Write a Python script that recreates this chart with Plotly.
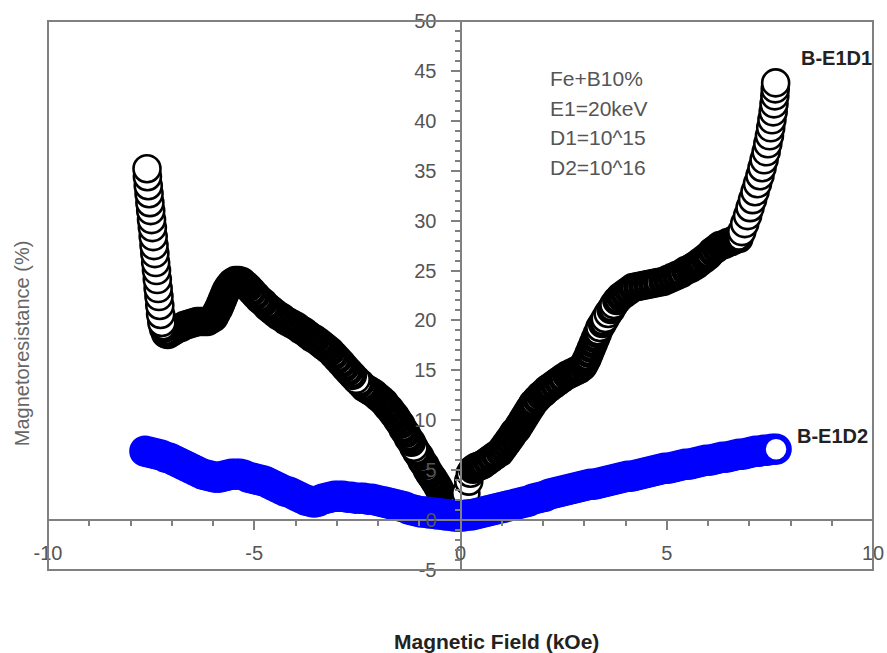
import math
import plotly.graph_objects as go

# ---- B-E1D1 (black), left sweep 0 -> -7.6 kOe, in measurement order ----
d1_left_field = [-0.20, -0.26, -0.32, -0.38, -0.44, -0.50, -0.55, -0.61, -0.67, -0.74, -0.80, -0.86, -0.93, -0.99,
                 -1.06, -1.13, -1.19, -1.26, -1.32, -1.39, -1.45, -1.52, -1.58, -1.64, -1.71, -1.78, -1.85, -1.93,
                 -2.02, -2.10, -2.18, -2.26, -2.34, -2.43, -2.53, -2.62, -2.71, -2.80, -2.88, -2.97, -3.06, -3.15,
                 -3.24, -3.33, -3.42, -3.52, -3.61, -3.70, -3.79, -3.88, -3.97, -4.06, -4.15, -4.24, -4.33, -4.42,
                 -4.51, -4.60, -4.69, -4.78, -4.87, -4.96, -5.05, -5.14, -5.22, -5.30, -5.38,
                 -5.46, -5.54, -5.60, -5.65, -5.69, -5.73, -5.77, -5.81, -5.85, -5.89, -5.94, -5.98, -6.06, -6.14,
                 -6.22, -6.30, -6.38, -6.46, -6.54, -6.62, -6.70, -6.78, -6.86, -6.94, -7.02, -7.10, -7.15, -7.20, -7.24,
                 -7.27, -7.29, -7.31, -7.33, -7.35, -7.37, -7.39, -7.41, -7.43, -7.45, -7.47, -7.49, -7.51, -7.53,
                 -7.55, -7.57, -7.59, -7.60]
d1_left_mr = [0.8, 1.2, 1.7, 2.1, 2.5, 3.0, 3.4, 3.8, 4.2, 4.6, 5.0, 5.5, 5.9, 6.4,
              6.8, 7.3, 7.8, 8.2, 8.7, 9.1, 9.6, 10.0, 10.4, 10.7, 11.1, 11.4, 11.8, 12.1,
              12.4, 12.7, 12.9, 13.1, 13.3, 13.7, 14.1, 14.5, 14.9, 15.3, 15.7, 16.1, 16.5, 16.9,
              17.2, 17.5, 17.8, 18.1, 18.3, 18.6, 18.9, 19.1, 19.4, 19.6, 19.8, 20.0, 20.3, 20.5,
              20.8, 21.1, 21.4, 21.8, 22.1, 22.5, 22.9, 23.3, 23.6, 23.9, 24.0,
              24.0, 23.8, 23.5, 23.2, 22.9, 22.5, 22.1, 21.7, 21.3, 21.0, 20.6, 20.3, 20.1, 19.9,
              19.9, 19.9, 19.9, 19.8, 19.7, 19.6, 19.5, 19.3, 19.2, 19.0, 18.8, 18.6, 18.7, 19.2, 19.8,
              20.6, 21.5, 22.4, 23.2, 24.1, 25.0, 25.8, 26.7, 27.5, 28.4, 29.3, 30.1, 31.0, 31.8,
              32.7, 33.5, 34.4, 35.2]

# ---- B-E1D1 (black), right sweep 0 -> +7.64 kOe ----
d1_right_field = [0.05, 0.13, 0.20, 0.24, 0.30, 0.37, 0.44, 0.50, 0.55, 0.65, 0.75, 0.85, 0.96,
                  1.03, 1.10, 1.17, 1.24, 1.30, 1.37, 1.43, 1.49, 1.55, 1.61, 1.67, 1.72, 1.76,
                  1.85, 1.94, 2.03, 2.10, 2.17,
                  2.27, 2.37, 2.47, 2.58, 2.68, 2.78, 2.88, 2.97,
                  3.02, 3.07, 3.12, 3.17, 3.22, 3.27, 3.32, 3.38,
                  3.44, 3.51, 3.58, 3.65, 3.72, 3.79,
                  3.88, 3.98, 4.08, 4.18,
                  4.30, 4.42, 4.54, 4.66, 4.78, 4.91,
                  5.02, 5.13, 5.24, 5.35, 5.46, 5.57, 5.65, 5.73,
                  5.82, 5.92, 6.01, 6.10, 6.20, 6.29,
                  6.39, 6.48, 6.57, 6.65, 6.75,
                  6.82, 6.89, 6.96, 7.02, 7.08, 7.14, 7.20, 7.26, 7.31, 7.36, 7.41, 7.45, 7.49, 7.52,
                  7.55, 7.58, 7.60, 7.62, 7.63, 7.64]
d1_right_mr = [1.5, 2.7, 3.9, 4.7, 5.1, 5.3, 5.4, 5.5, 5.6, 5.9, 6.2, 6.5, 6.8,
               7.2, 7.6, 8.0, 8.4, 8.8, 9.1, 9.5, 9.9, 10.3, 10.7, 11.1, 11.4, 11.7,
               12.1, 12.5, 12.8, 13.1, 13.3,
               13.6, 13.9, 14.2, 14.5, 14.7, 14.9, 15.1, 15.4,
               15.8, 16.2, 16.7, 17.2, 17.7, 18.2, 18.7, 19.3,
               19.7, 20.2, 20.7, 21.1, 21.6, 22.0,
               22.4, 22.7, 23.0, 23.3,
               23.4, 23.5, 23.6, 23.7, 23.8, 23.9,
               24.1, 24.3, 24.5, 24.7, 25.0, 25.2, 25.4, 25.6,
               25.9, 26.2, 26.5, 26.9, 27.2, 27.5,
               27.6, 27.8, 27.9, 28.1, 28.2,
               28.9, 29.7, 30.5, 31.3, 32.1, 32.9, 33.7, 34.5, 35.3, 36.1, 36.9, 37.7, 38.5, 39.3,
               40.1, 40.9, 41.7, 42.5, 43.2, 43.8]

# ---- B-E1D2 (blue), sweep -7.65 -> +7.65 kOe ----
d2_field = [-7.65, -7.55, -7.45, -7.35, -7.25, -7.15, -7.05, -6.95, -6.85, -6.75, -6.65, -6.55, -6.45, -6.35,
            -6.25, -6.15, -6.05, -5.95, -5.85, -5.75, -5.65, -5.55, -5.45, -5.35, -5.25, -5.15, -5.05, -4.95,
            -4.85, -4.75, -4.65, -4.55, -4.45, -4.35, -4.25, -4.15, -4.05, -3.95, -3.85, -3.75, -3.65, -3.55,
            -3.45, -3.35, -3.25, -3.15, -3.05, -2.95, -2.85, -2.75, -2.65, -2.55, -2.45, -2.35, -2.25, -2.15,
            -2.05, -1.95, -1.85, -1.75, -1.65, -1.55, -1.45, -1.35, -1.25, -1.15, -1.05, -0.95, -0.85, -0.75,
            -0.65, -0.55, -0.45, -0.35, -0.25, -0.15, -0.05, 0.05, 0.15, 0.25, 0.35, 0.45, 0.55, 0.65,
            0.75, 0.85, 0.95, 1.05, 1.15, 1.25, 1.35, 1.45, 1.55, 1.65, 1.75, 1.85, 1.95, 2.05,
            2.15, 2.25, 2.35, 2.45, 2.55, 2.65, 2.75, 2.85, 2.95, 3.05, 3.15, 3.25, 3.35, 3.45,
            3.55, 3.65, 3.75, 3.85, 3.95, 4.05, 4.15, 4.25, 4.35, 4.45, 4.55, 4.65, 4.75, 4.85,
            4.95, 5.05, 5.15, 5.25, 5.35, 5.45, 5.55, 5.65, 5.75, 5.85, 5.95, 6.05, 6.15, 6.25,
            6.35, 6.45, 6.55, 6.65, 6.75, 6.85, 6.95, 7.05, 7.15, 7.25, 7.35, 7.45, 7.55, 7.65]
d2_mr = [6.9, 6.8, 6.7, 6.6, 6.5, 6.3, 6.2, 6.0, 5.8, 5.6, 5.4, 5.2, 5.0, 4.8,
         4.6, 4.5, 4.4, 4.3, 4.3, 4.4, 4.5, 4.6, 4.6, 4.6, 4.5, 4.3, 4.2, 4.1,
         4.0, 3.9, 3.7, 3.5, 3.3, 3.1, 2.9, 2.8, 2.6, 2.4, 2.2, 2.0, 1.9, 1.8,
         1.9, 2.1, 2.2, 2.3, 2.4, 2.4, 2.4, 2.3, 2.3, 2.2, 2.2, 2.2, 2.1, 2.1,
         2.0, 1.9, 1.8, 1.7, 1.6, 1.5, 1.4, 1.3, 1.1, 1.0, 0.9, 0.8, 0.8, 0.7,
         0.7, 0.6, 0.6, 0.5, 0.5, 0.4, 0.4, 0.4, 0.5, 0.5, 0.6, 0.7, 0.8, 0.9,
         1.0, 1.1, 1.2, 1.3, 1.4, 1.5, 1.6, 1.7, 1.8, 1.9, 2.1, 2.2, 2.3, 2.4,
         2.6, 2.7, 2.8, 2.9, 3.0, 3.1, 3.2, 3.3, 3.4, 3.5, 3.6, 3.6, 3.7, 3.8,
         3.9, 4.0, 4.1, 4.2, 4.3, 4.4, 4.4, 4.5, 4.6, 4.7, 4.8, 4.9, 5.0, 5.1,
         5.2, 5.2, 5.3, 5.4, 5.5, 5.6, 5.6, 5.7, 5.8, 5.9, 6.0, 6.0, 6.1, 6.2,
         6.3, 6.3, 6.4, 6.5, 6.6, 6.6, 6.7, 6.8, 6.9, 6.9, 7.0, 7.0, 7.1, 7.1]

x_ticks = [-10, -5, 0, 5, 10]
x_tick_labels = ["-10", "-5", "0", "5", "10"]
y_ticks = [-5, 0, 5, 10, 15, 20, 25, 30, 35, 40, 45, 50]
y_tick_labels = ["-5", "0", "5", "10", "15", "20", "25", "30", "35", "40", "45", "50"]
info_lines = ["Fe+B10%", "E1=20keV", "D1=10^15", "D2=10^16"]

FONT = "Liberation Sans, Arial, sans-serif"
GRAY = "#808080"
X_RANGE = [-10, 10]
Y_RANGE = [-5, 50]
PLOT_W, PLOT_H = 825, 549


def ring_widths(xs, ys, thick, thin, gap_px):
    """Outline width per marker: thin where consecutive markers are far apart on screen."""
    sx = PLOT_W / (X_RANGE[1] - X_RANGE[0])
    sy = PLOT_H / (Y_RANGE[1] - Y_RANGE[0])
    out = []
    for i in range(len(xs)):
        j = i - 1 if i > 0 else 1
        d = math.hypot((xs[i] - xs[j]) * sx, (ys[i] - ys[j]) * sy)
        out.append(thin if d > gap_px else thick)
    return out


d1_x = d1_left_field + d1_right_field
d1_y = d1_left_mr + d1_right_mr
d1_lw = (ring_widths(d1_left_field, d1_left_mr, 5.2, 2.6, 5.6)
         + ring_widths(d1_right_field, d1_right_mr, 5.2, 2.6, 5.6))
d1_size = [29.6 - w for w in d1_lw]

fig = go.Figure()
fig.add_trace(go.Scatter(
    x=d1_x, y=d1_y, mode="markers", name="B-E1D1",
    marker=dict(symbol="circle", size=d1_size, color="white", opacity=1,
                line=dict(color="black", width=d1_lw)),
    cliponaxis=False))
fig.add_trace(go.Scatter(
    x=d2_field, y=d2_mr, mode="markers", name="B-E1D2",
    marker=dict(symbol="circle", size=26, color="white", opacity=1,
                line=dict(color="#0000ff", width=5.5)),
    cliponaxis=False))

fig.update_layout(
    width=887, height=653,
    margin=dict(l=48, r=14, t=21, b=83, autoexpand=False),
    paper_bgcolor="white", plot_bgcolor="white",
    showlegend=False,
    font=dict(family=FONT, size=20, color="#555555"),
    xaxis=dict(range=X_RANGE, anchor="free", position=5 / 55, showgrid=False, zeroline=False, automargin=False,
               showline=True, linecolor=GRAY, linewidth=2,
               tickmode="array", tickvals=x_ticks, ticktext=x_tick_labels,
               ticks="outside", ticklen=9, tickwidth=1.5, tickcolor=GRAY, ticklabelstandoff=6,
               tickfont=dict(family=FONT, size=20, color="#555555"),
               minor=dict(dtick=1, ticks="outside", ticklen=5, tickwidth=1.5, tickcolor=GRAY, showgrid=False)),
    yaxis=dict(range=Y_RANGE, anchor="free", position=0.5, showgrid=False, zeroline=False, automargin=False,
               showline=True, linecolor=GRAY, linewidth=2,
               tickmode="array", tickvals=y_ticks, ticktext=y_tick_labels,
               ticks="outside", ticklen=9, tickwidth=1.5, tickcolor=GRAY, ticklabelstandoff=10,
               tickfont=dict(family=FONT, size=20, color="#555555"),
               minor=dict(dtick=1, ticks="outside", ticklen=5, tickwidth=1.5, tickcolor=GRAY, showgrid=False)),
)

fig.add_shape(type="rect", xref="paper", yref="paper", x0=0, y0=0, x1=1, y1=1,
              line=dict(color=GRAY, width=2), layer="above")

annotations = []
for i, txt in enumerate(info_lines):
    annotations.append(dict(x=2.12, y=44.2 - 2.95 * i, xref="x", yref="y", text=txt, showarrow=False,
                            xanchor="left", yanchor="middle",
                            font=dict(family=FONT, size=21, color="#555555")))
annotations.append(dict(x=8.2, y=46.3, xref="x", yref="y", text="<b>B-E1D1</b>", showarrow=False,
                        xanchor="left", yanchor="middle", font=dict(family=FONT, size=20, color="#222222")))
annotations.append(dict(x=8.12, y=8.4, xref="x", yref="y", text="<b>B-E1D2</b>", showarrow=False,
                        xanchor="left", yanchor="middle", font=dict(family=FONT, size=20, color="#222222")))
annotations.append(dict(x=-0.0315, y=0.413, xref="paper", yref="paper", text="Magnetoresistance (%)",
                        showarrow=False, textangle=-90, xanchor="center", yanchor="middle",
                        font=dict(family=FONT, size=20, color="#666666")))
annotations.append(dict(x=0.544, y=-0.131, xref="paper", yref="paper", text="<b>Magnetic Field (kOe)</b>",
                        showarrow=False, xanchor="center", yanchor="middle",
                        font=dict(family=FONT, size=21, color="#222222")))
fig.update_layout(annotations=annotations)

fig.write_html("out.html")
